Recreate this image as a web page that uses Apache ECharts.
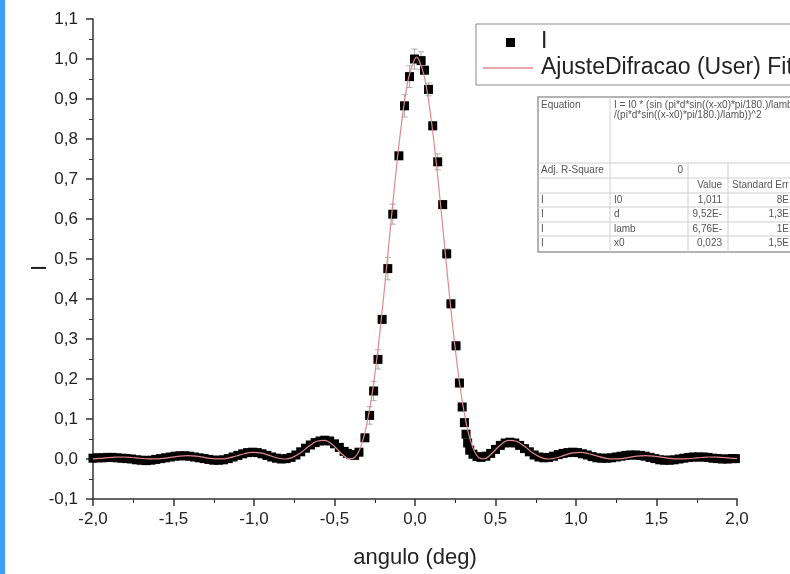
<!DOCTYPE html>
<html>
<head>
<meta charset="utf-8">
<script src="https://cdn.jsdelivr.net/npm/echarts@6/dist/echarts.min.js"></script>
<style>
  html, body { margin: 0; padding: 0; background: #fff; }
  #chart { width: 790px; height: 574px; }
</style>
</head>
<body>
<div id="chart"></div>
<script>
// Measured single-slit intensity (normalised) against angle in degrees
const angles = [
  -2.00, -1.97, -1.94, -1.91, -1.88, -1.85, -1.82, -1.79, -1.76, -1.73,
  -1.70, -1.67, -1.64, -1.61, -1.58, -1.55, -1.52, -1.49, -1.46, -1.43,
  -1.40, -1.37, -1.34, -1.31, -1.28, -1.25, -1.22, -1.19, -1.16, -1.13,
  -1.10, -1.07, -1.04, -1.01, -0.98, -0.95, -0.92, -0.89, -0.86, -0.83,
  -0.80, -0.77, -0.74, -0.71, -0.68, -0.65, -0.62, -0.59, -0.56, -0.53,
  -0.50, -0.47, -0.44, -0.42, -0.40, -0.375, -0.348, -0.311, -0.282, -0.257,
  -0.230, -0.204, -0.169, -0.138, -0.100, -0.065, -0.034, -0.003, 0.038, 0.059,
  0.084, 0.110, 0.141, 0.172, 0.197, 0.223, 0.255, 0.276, 0.293, 0.307,
  0.317, 0.327, 0.340, 0.360, 0.385, 0.410, 0.440, 0.47, 0.50, 0.53,
  0.56, 0.59, 0.62, 0.65, 0.68, 0.71, 0.74, 0.77, 0.80, 0.83,
  0.86, 0.89, 0.92, 0.95, 0.98, 1.01, 1.04, 1.07, 1.10, 1.13,
  1.16, 1.19, 1.22, 1.25, 1.28, 1.31, 1.34, 1.37, 1.40, 1.43,
  1.46, 1.49, 1.52, 1.55, 1.58, 1.61, 1.64, 1.67, 1.70, 1.73,
  1.76, 1.79, 1.82, 1.85, 1.88, 1.91, 1.94, 1.97, 1.99
];
const intensity = [
  0.002, 0.003, 0.003, 0.004, 0.004, 0.003, 0.002, 0.001, 0.000, -0.002,
  -0.003, -0.004, -0.003, -0.001, 0.001, 0.003, 0.005, 0.007, 0.008, 0.008,
  0.007, 0.005, 0.003, 0.001, -0.001, -0.003, -0.003, -0.002, 0.001, 0.005,
  0.009, 0.013, 0.016, 0.017, 0.016, 0.013, 0.009, 0.005, 0.002, 0.000,
  0.001, 0.004, 0.010, 0.018, 0.027, 0.035, 0.041, 0.045, 0.047, 0.045,
  0.038, 0.029, 0.019, 0.014, 0.011, 0.009, 0.017, 0.053, 0.109, 0.170,
  0.249, 0.349, 0.476, 0.612, 0.758, 0.883, 0.956, 1.000, 0.996, 0.972,
  0.924, 0.833, 0.743, 0.636, 0.513, 0.388, 0.283, 0.190, 0.130, 0.091,
  0.062, 0.040, 0.022, 0.012, 0.006, 0.004, 0.007, 0.014, 0.024, 0.034,
  0.040, 0.042, 0.040, 0.034, 0.026, 0.018, 0.010, 0.005, 0.003, 0.004,
  0.007, 0.011, 0.014, 0.016, 0.017, 0.016, 0.013, 0.010, 0.006, 0.003,
  0.002, 0.002, 0.003, 0.005, 0.007, 0.009, 0.010, 0.010, 0.009, 0.007,
  0.004, 0.001, -0.002, -0.003, -0.003, -0.002, 0.000, 0.002, 0.004, 0.005,
  0.005, 0.005, 0.004, 0.002, 0.001, 0.000, 0.000, 0.001, 0.001
];
const intensityErr = [
  0.004, 0.004, 0.004, 0.004, 0.004, 0.004, 0.004, 0.004, 0.004, 0.004,
  0.004, 0.004, 0.004, 0.004, 0.004, 0.004, 0.004, 0.004, 0.004, 0.004,
  0.004, 0.004, 0.004, 0.004, 0.004, 0.004, 0.004, 0.004, 0.004, 0.004,
  0.004, 0.004, 0.004, 0.004, 0.004, 0.004, 0.004, 0.004, 0.004, 0.004,
  0.004, 0.004, 0.004, 0.004, 0.004, 0.004, 0.004, 0.004, 0.004, 0.004,
  0.004, 0.004, 0.004, 0.004, 0.004, 0.004, 0.006, 0.008, 0.022, 0.024,
  0.024, 0.008, 0.028, 0.025, 0.008, 0.028, 0.027, 0.025, 0.022, 0.010,
  0.016, 0.010, 0.020, 0.010, 0.012, 0.010, 0.010, 0.010, 0.008, 0.008,
  0.006, 0.006, 0.006, 0.005, 0.005, 0.005, 0.004, 0.004, 0.004, 0.004,
  0.004, 0.004, 0.004, 0.004, 0.004, 0.004, 0.004, 0.004, 0.004, 0.004,
  0.004, 0.004, 0.004, 0.004, 0.004, 0.004, 0.004, 0.004, 0.004, 0.004,
  0.004, 0.004, 0.004, 0.004, 0.004, 0.004, 0.004, 0.004, 0.004, 0.004,
  0.004, 0.004, 0.004, 0.004, 0.004, 0.004, 0.004, 0.004, 0.004, 0.004,
  0.004, 0.004, 0.004, 0.004, 0.004, 0.004, 0.004, 0.004, 0.004
];

// Fitted diffraction curve (AjusteDifracao)
const fitAngles = [
  -2.00, -1.96, -1.91, -1.86, -1.81, -1.76, -1.71, -1.66, -1.61, -1.56,
  -1.51, -1.46, -1.41, -1.36, -1.31, -1.26, -1.21, -1.16, -1.11, -1.06,
  -1.01, -0.96, -0.91, -0.86, -0.81, -0.76, -0.71, -0.66, -0.61, -0.56,
  -0.51, -0.46, -0.41, -0.385, -0.36, -0.335, -0.31, -0.285, -0.26, -0.235,
  -0.21, -0.185, -0.16, -0.135, -0.11, -0.085, -0.06, -0.035, -0.01, 0.01,
  0.03, 0.055, 0.08, 0.105, 0.13, 0.155, 0.18, 0.205, 0.23, 0.255,
  0.28, 0.305, 0.33, 0.355, 0.38, 0.405, 0.43, 0.48, 0.53, 0.58,
  0.63, 0.68, 0.73, 0.78, 0.83, 0.88, 0.93, 0.98, 1.03, 1.08,
  1.13, 1.18, 1.23, 1.28, 1.33, 1.38, 1.43, 1.48, 1.53, 1.58,
  1.63, 1.68, 1.73, 1.78, 1.83, 1.88, 1.93, 1.98, 2.00
];
const fitIntensity = [
  0.0004, 0.0014, 0.0033, 0.0047, 0.0050, 0.0038, 0.0019, 0.0003, 0.0002, 0.0018,
  0.0047, 0.0073, 0.0083, 0.0070, 0.0040, 0.0010, 0.0001, 0.0024, 0.0076, 0.0132,
  0.0164, 0.0151, 0.0097, 0.0031, 0.0000, 0.0040, 0.0158, 0.0316, 0.0443, 0.0465,
  0.0350, 0.0151, 0.0006, 0.0014, 0.0113, 0.0328, 0.0676, 0.117, 0.180, 0.258,
  0.347, 0.445, 0.548, 0.651, 0.748, 0.835, 0.908, 0.961, 0.992, 1.005,
  0.992, 0.961, 0.908, 0.835, 0.748, 0.651, 0.548, 0.445, 0.347, 0.258,
  0.180, 0.117, 0.0676, 0.0328, 0.0113, 0.0014, 0.0006, 0.0151, 0.0350, 0.0465,
  0.0443, 0.0316, 0.0158, 0.0040, 0.0000, 0.0031, 0.0097, 0.0151, 0.0164, 0.0132,
  0.0076, 0.0024, 0.0001, 0.0010, 0.0040, 0.0070, 0.0083, 0.0073, 0.0047, 0.0018,
  0.0002, 0.0003, 0.0019, 0.0038, 0.0050, 0.0047, 0.0033, 0.0014, 0.0008
];

const seriesNames = ['I', 'AjusteDifracao (User) Fit of Sheet1 I'];

// Parameter table of the fit
const tableRows = [
  ['I', 'I0', '1,011', '8E'],
  ['I', 'd', '9,52E-', '1,3E'],
  ['I', 'lamb', '6,76E-', '1E'],
  ['I', 'x0', '0,023', '1,5E']
];
const equationLines = [
  'I = I0 * (sin (pi*d*sin((x-x0)*pi/180.)/lamb)',
  '/(pi*d*sin((x-x0)*pi/180.)/lamb))^2'
];

const FONT = '"Liberation Sans", Arial, Helvetica, sans-serif';
const FIT_COLOR = '#e0898d';
const comma = v => v.toFixed(1).replace('.', ',');

const points = angles.map((a, i) => [a, intensity[i]]);
const errPoints = angles.map((a, i) => [a, intensity[i], intensityErr[i]]);
const fitPoints = fitAngles.map((a, i) => [a, fitIntensity[i]]);

// parameter table drawn as graphic elements
const tbl = { x: 538, y: 97, colX: [610, 688, 728], rowY: [163, 178, 193, 207, 222, 236], bottom: 252 };
const tableEls = [];
tableEls.push({ type: 'rect', shape: { x: tbl.x, y: tbl.y, width: 300, height: tbl.bottom - tbl.y },
  style: { fill: '#fff', stroke: '#9a9a9a', lineWidth: 1.5 }, z: 10 });
tableEls.push({ type: 'line', shape: { x1: tbl.colX[0], y1: tbl.y, x2: tbl.colX[0], y2: tbl.bottom },
  style: { stroke: '#cfcfcf', lineWidth: 1 }, z: 11 });
[tbl.colX[1], tbl.colX[2]].forEach(cx => tableEls.push({ type: 'line',
  shape: { x1: cx, y1: tbl.rowY[0], x2: cx, y2: tbl.bottom }, style: { stroke: '#cfcfcf', lineWidth: 1 }, z: 11 }));
tbl.rowY.forEach(ry => tableEls.push({ type: 'line',
  shape: { x1: tbl.x, y1: ry, x2: 800, y2: ry }, style: { stroke: '#cfcfcf', lineWidth: 1 }, z: 11 }));
const cell = (text, x, y, align) => ({ type: 'text', x, y, z: 12,
  style: { text, fill: '#555', font: '10px ' + FONT, textAlign: align || 'left', textVerticalAlign: 'middle' } });
tableEls.push(cell('Equation', 541, 105));
equationLines.forEach((t, i) => tableEls.push(cell(t, 614, 105 + i * 10)));
tableEls.push(cell('Adj. R-Square', 541, 170));
tableEls.push(cell('0', 683, 170, 'right'));
tableEls.push(cell('Value', 722, 185, 'right'));
tableEls.push(cell('Standard Err', 732, 185));
tableRows.forEach((r, i) => {
  const cy = 200 + i * 14.4;
  tableEls.push(cell(r[0], 541, cy));
  tableEls.push(cell(r[1], 614, cy));
  tableEls.push(cell(r[2], 722, cy, 'right'));
  tableEls.push(cell(r[3], 789, cy, 'right'));
});

const chart = echarts.init(document.getElementById('chart'), null, { renderer: 'canvas' });
chart.setOption({
  animation: false,
  backgroundColor: '#fff',
  grid: { left: 93, right: 53, top: 19, bottom: 75, containLabel: false },
  xAxis: {
    type: 'value', min: -2, max: 2, interval: 0.5,
    name: 'angulo (deg)', nameLocation: 'middle', nameGap: 48,
    nameTextStyle: { fontSize: 22, color: '#222', fontFamily: FONT },
    axisLine: { show: true, onZero: false, lineStyle: { color: '#333', width: 1.5 } },
    axisTick: { show: true, inside: false, length: 7, lineStyle: { color: '#333', width: 1.5 } },
    minorTick: { show: true, splitNumber: 2, length: 4, lineStyle: { color: '#333', width: 1 } },
    splitLine: { show: false },
    axisLabel: { formatter: comma, color: '#222', fontSize: 17, fontFamily: FONT, margin: 12,
      showMinLabel: true, showMaxLabel: true }
  },
  yAxis: {
    type: 'value', min: -0.1, max: 1.1, interval: 0.1,
    axisLine: { show: true, onZero: false, lineStyle: { color: '#333', width: 1.5 } },
    axisTick: { show: true, inside: false, length: 7, lineStyle: { color: '#333', width: 1.5 } },
    minorTick: { show: true, splitNumber: 2, length: 4, lineStyle: { color: '#333', width: 1 } },
    splitLine: { show: false },
    axisLabel: { formatter: comma, color: '#222', fontSize: 17, fontFamily: FONT, margin: 15,
      showMinLabel: true, showMaxLabel: true }
  },
  series: [
    {
      name: 'err', type: 'custom', z: 2,
      encode: { x: 0, y: 1 },
      data: errPoints,
      renderItem: (params, api) => {
        const x = api.value(0), y = api.value(1), e = api.value(2);
        const top = api.coord([x, y + e]);
        const bot = api.coord([x, y - e]);
        const hw = 3;
        const st = { stroke: '#999', lineWidth: 0.8 };
        return { type: 'group', children: [
          { type: 'line', shape: { x1: top[0], y1: top[1], x2: bot[0], y2: bot[1] }, style: st },
          { type: 'line', shape: { x1: top[0] - hw, y1: top[1], x2: top[0] + hw, y2: top[1] }, style: st },
          { type: 'line', shape: { x1: bot[0] - hw, y1: bot[1], x2: bot[0] + hw, y2: bot[1] }, style: st }
        ] };
      }
    },
    {
      name: seriesNames[0], type: 'scatter', z: 3,
      symbol: 'rect', symbolSize: 9,
      itemStyle: { color: '#000', opacity: 1 },
      data: points
    },
    {
      name: seriesNames[1], type: 'line', z: 4,
      smooth: 0.35, showSymbol: false, symbol: 'none',
      lineStyle: { color: FIT_COLOR, width: 1.2 },
      data: fitPoints
    }
  ],
  graphic: [
    // blue strip at the left edge
    { type: 'rect', shape: { x: 0, y: 0, width: 5, height: 574 }, style: { fill: '#3a9ff5' }, z: 20 },
    // y axis title
    { type: 'text', x: 40, y: 268, rotation: Math.PI / 2, z: 20,
      style: { text: 'I', fill: '#222', font: '22px ' + FONT, textAlign: 'center', textVerticalAlign: 'middle' } },
    // legend box
    { type: 'rect', shape: { x: 476, y: 24, width: 340, height: 61 },
      style: { fill: '#fff', stroke: '#8c8c8c', lineWidth: 1 }, z: 10 },
    { type: 'rect', shape: { x: 506, y: 38, width: 9, height: 9 }, style: { fill: '#000' }, z: 11 },
    { type: 'text', x: 541, y: 42, z: 11,
      style: { text: seriesNames[0], fill: '#222', font: '23px ' + FONT, textVerticalAlign: 'middle' } },
    { type: 'line', shape: { x1: 483, y1: 68, x2: 533, y2: 68 }, style: { stroke: FIT_COLOR, lineWidth: 1.3 }, z: 11 },
    { type: 'text', x: 541, y: 68, z: 11,
      style: { text: seriesNames[1], fill: '#222', font: '23px ' + FONT, textVerticalAlign: 'middle' } },
    ...tableEls
  ]
});
</script>
</body>
</html>
